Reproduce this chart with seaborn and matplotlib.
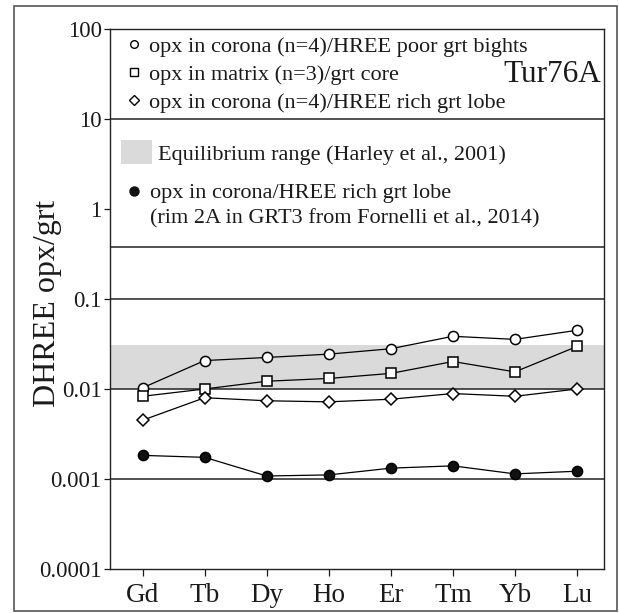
import matplotlib
matplotlib.use("Agg")
import matplotlib.pyplot as plt
from matplotlib.lines import Line2D
from matplotlib.patches import Patch, Rectangle
import numpy as np
import pandas as pd
import seaborn as sns

# HREE partition coefficients between orthopyroxene and garnet
elements = ["Gd", "Tb", "Dy", "Ho", "Er", "Tm", "Yb", "Lu"]
corona_poor_bights = [0.0103, 0.0207, 0.0224, 0.0244, 0.0280, 0.0385, 0.0356, 0.0449]
matrix_grt_core = [0.0083, 0.0100, 0.0122, 0.0131, 0.0149, 0.0202, 0.0155, 0.0297]
corona_rich_lobe = [0.0045, 0.0080, 0.0074, 0.0072, 0.0077, 0.0089, 0.0083, 0.0100]
fornelli_rim2a = [0.00183, 0.00174, 0.00108, 0.00111, 0.00132, 0.00140, 0.00114, 0.00122]

# Equilibrium range of Harley et al. (2001)
equilibrium_low, equilibrium_high = 0.01, 0.031

y_ticks = [0.0001, 0.001, 0.01, 0.1, 1, 10, 100]
y_tick_labels = ["0.0001", "0.001", "0.01", "0.1", "1", "10", "100"]
rule_levels = [10, 0.38, 0.1, 0.01, 0.001]

sns.set_style("ticks")
plt.rcParams["font.family"] = ["Liberation Serif", "DejaVu Serif"]
plt.rcParams["text.color"] = "#1a1a1a"
plt.rcParams["axes.labelcolor"] = "#1a1a1a"
plt.rcParams["xtick.color"] = "#1a1a1a"
plt.rcParams["ytick.color"] = "#1a1a1a"

fig = plt.figure(figsize=(6.19, 6.13), dpi=100)
ax = fig.add_axes([110 / 619, 1 - 569 / 613, 494 / 619, 540 / 613])

pos = np.arange(len(elements))
df = pd.DataFrame({
    "pos": np.tile(pos, 4),
    "D": corona_poor_bights + matrix_grt_core + corona_rich_lobe + fornelli_rim2a,
    "series": np.repeat(["poor", "matrix", "rich", "fornelli"], len(elements)),
})

styles = {
    "poor": dict(marker="o", markersize=7.3, markerfacecolor="white"),
    "matrix": dict(marker="s", markersize=7.0, markerfacecolor="white"),
    "rich": dict(marker="D", markersize=6.0, markerfacecolor="white"),
    "fornelli": dict(marker="o", markersize=7.3, markerfacecolor="#111111"),
}

ax.axhspan(equilibrium_low, equilibrium_high, color="#dadada", lw=0, zorder=0)
for lvl in rule_levels:
    ax.axhline(lvl, color="#222222", lw=1.1, zorder=1)

for name, st in styles.items():
    sub = df[df["series"] == name]
    sns.lineplot(data=sub, x="pos", y="D", ax=ax, color="black", lw=0.9,
                 markeredgecolor="black", markeredgewidth=1.1, zorder=3,
                 legend=False, **st)

ax.set_yscale("log")
ax.set_ylim(1e-4, 100)
ax.set_xlim(-0.525, 7.435)
ax.set_yticks(y_ticks)
ax.set_yticklabels(y_tick_labels)
ax.yaxis.set_minor_locator(matplotlib.ticker.NullLocator())
ax.set_xticks(pos)
ax.set_xticklabels(elements)
ax.tick_params(axis="y", labelsize=16.5, length=4, width=0.9, pad=2, direction="out")
ax.tick_params(axis="x", labelsize=19.5, length=5, width=0.9, pad=5, direction="out")
ax.set_xlabel("")
ax.set_ylabel("DHREE opx/grt", fontsize=23)
ax.yaxis.set_label_coords(-0.097, 0.492)
for sp in ax.spines.values():
    sp.set_visible(True)
    sp.set_color("#222222")
    sp.set_linewidth(1.0)

# Legend block
fs = 16
h1 = [
    Line2D([], [], ls="none", marker="o", ms=5.5, mfc="white", mec="black", mew=1.0),
    Line2D([], [], ls="none", marker="s", ms=5.5, mfc="white", mec="black", mew=1.0),
    Line2D([], [], ls="none", marker="D", ms=4.8, mfc="white", mec="black", mew=1.0),
]
l1 = ax.legend(h1, ["opx in corona (n=4)/HREE poor grt bights",
                    "opx in matrix (n=3)/grt core",
                    "opx in corona (n=4)/HREE rich grt lobe"],
               loc="upper left", bbox_to_anchor=(0.030, 0.986), frameon=False,
               fontsize=fs, handlelength=0.8, handletextpad=0.3,
               labelspacing=0.33, borderpad=0, borderaxespad=0)
ax.add_artist(l1)

l2 = ax.legend([Patch(facecolor="#dadada", edgecolor="none")],
               ["Equilibrium range (Harley et al., 2001)"],
               loc="upper left", bbox_to_anchor=(0.0223, 0.7944), frameon=False,
               fontsize=fs, handlelength=1.4, handleheight=1.3, handletextpad=0.27,
               borderpad=0, borderaxespad=0)
ax.add_artist(l2)

h3 = [Line2D([], [], ls="none", marker="o", ms=6.5, mfc="#111111", mec="#111111"),
      Line2D([], [], ls="none", marker="")]
ax.legend(h3, ["opx in corona/HREE rich grt lobe",
               "(rim 2A in GRT3 from Fornelli et al., 2014)"],
          loc="upper left", bbox_to_anchor=(0.030, 0.715), frameon=False,
          fontsize=fs, handlelength=0.8, handletextpad=0.35,
          labelspacing=0.22, borderpad=0, borderaxespad=0)

ax.text(0.994, 0.915, "Tur76A", transform=ax.transAxes, ha="right", va="center",
        fontsize=22.5)

# Outer frame around the whole figure
fig.patches.append(Rectangle((14 / 619, 1 - 611 / 613), 603 / 619, 605 / 613,
                             transform=fig.transFigure, fill=False,
                             edgecolor="#555555", lw=1.2))

fig.savefig("out.png", dpi=100)
